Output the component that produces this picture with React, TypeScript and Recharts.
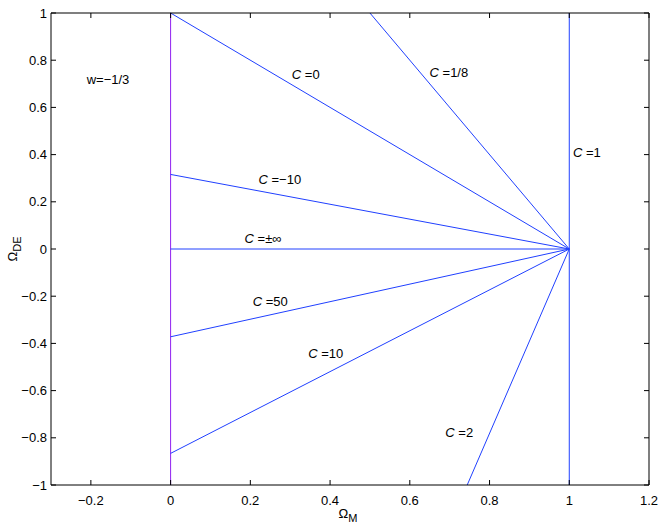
import React from 'react';
import { ComposedChart, Line, XAxis, YAxis, Scatter } from 'recharts';

const xDomain = [-0.3, 1.2];
const yDomain = [-1, 1];
const xTicks = [-0.2, 0, 0.2, 0.4, 0.6, 0.8, 1, 1.2];
const yTicks = [-1, -0.8, -0.6, -0.4, -0.2, 0, 0.2, 0.4, 0.6, 0.8, 1];

const lineC0 = [{ x: 0, y: 1 }, { x: 1, y: 0 }];
const lineC18 = [{ x: 0.5, y: 1 }, { x: 1, y: 0 }];
const lineC1 = [{ x: 1, y: 1 }, { x: 1, y: -1 }];
const lineCm10 = [{ x: 0, y: 0.316 }, { x: 1, y: 0 }];
const lineCinf = [{ x: 0, y: 0 }, { x: 1, y: 0 }];
const lineC50 = [{ x: 0, y: -0.372 }, { x: 1, y: 0 }];
const lineC10 = [{ x: 0, y: -0.866 }, { x: 1, y: 0 }];
const lineC2 = [{ x: 0.744, y: -1 }, { x: 1, y: 0 }];
const lineBoundary = [{ x: 0, y: 1 }, { x: 0, y: -1 }];

const blueLines = [lineC0, lineC18, lineC1, lineCm10, lineCinf, lineC50, lineC10, lineC2];

const labels = [
  { x: -0.157, y: 0.72, pre: '', text: 'w=−1/3' },
  { x: 0.339, y: 0.742, pre: 'C', text: ' =0' },
  { x: 0.698, y: 0.75, pre: 'C', text: ' =1/8' },
  { x: 1.044, y: 0.411, pre: 'C', text: ' =1' },
  { x: 0.274, y: 0.297, pre: 'C', text: ' =−10' },
  { x: 0.232, y: 0.047, pre: 'C', text: ' =±∞' },
  { x: 0.25, y: -0.219, pre: 'C', text: ' =50' },
  { x: 0.389, y: -0.441, pre: 'C', text: ' =10' },
  { x: 0.724, y: -0.775, pre: 'C', text: ' =2' },
];

// anchors for the box's top/right edges and mirrored ticks, built from domains/ticks
const corner = [{ x: xDomain[1], y: yDomain[1] }];
const topTicks = xTicks.map((x) => ({ x, y: yDomain[1] }));
const rightTicks = yTicks.map((y) => ({ x: xDomain[1], y }));

const FONT = '"Liberation Sans", Arial, sans-serif';
const fmt = (v: number) => (v < 0 ? '−' + Math.abs(v) : String(v));
const TICK_LEN = 5;
const CHART_W = 664;
const CHART_H = 526;
const M = { top: 13, right: 15, bottom: 0, left: 0 };
const X_AXIS_H = 41;
const Y_AXIS_W = 51;
const PLOT_W = CHART_W - M.left - M.right - Y_AXIS_W;
const PLOT_H = CHART_H - M.top - M.bottom - X_AXIS_H;

const BottomTick = (props: any) => {
  const { x, y, payload } = props;
  const axisY = y - 10;
  return (
    <g>
      <rect x={x - 0.5} y={axisY - TICK_LEN} width={1} height={TICK_LEN} fill="#000" />
      <text x={x} y={y} dy="0.75em" textAnchor="middle" fontSize={13} fontFamily={FONT} fill="#000">
        {fmt(payload.value)}
      </text>
    </g>
  );
};

const LeftTick = (props: any) => {
  const { x, y, payload } = props;
  const axisX = x + 4;
  return (
    <g>
      <rect x={axisX} y={y - 0.5} width={TICK_LEN} height={1} fill="#000" />
      <text x={x} y={y} dy="0.35em" textAnchor="end" fontSize={13} fontFamily={FONT} fill="#000">
        {fmt(payload.value)}
      </text>
    </g>
  );
};

const CornerShape = (props: any) => {
  const { cx, cy } = props;
  return (
    <g>
      <rect x={cx - PLOT_W} y={cy - 0.5} width={PLOT_W} height={1} fill="#000" />
      <rect x={cx - 0.5} y={cy} width={1} height={PLOT_H} fill="#000" />
    </g>
  );
};

const TopTickShape = (props: any) => {
  const { cx, cy } = props;
  return <rect x={cx - 0.5} y={cy} width={1} height={TICK_LEN} fill="#000" />;
};

const RightTickShape = (props: any) => {
  const { cx, cy } = props;
  return <rect x={cx - TICK_LEN} y={cy - 0.5} width={TICK_LEN} height={1} fill="#000" />;
};

const LabelShape = (props: any) => {
  const { cx, cy, payload } = props;
  return (
    <text x={cx} y={cy} textAnchor="middle" dominantBaseline="central" fontSize={13} fontFamily={FONT} fill="#000">
      {payload.pre ? <tspan fontStyle="italic">{payload.pre}</tspan> : null}
      <tspan>{payload.text}</tspan>
    </text>
  );
};

const XTitle = (props: any) => {
  const vb = props.viewBox || { x: 51, y: 485, width: 598, height: 41 };
  return (
    <text x={vb.x + vb.width / 2 - 2} y={vb.y + 33} textAnchor="middle" fontSize={13} fontFamily={FONT} fill="#000">
      Ω<tspan fontSize={11} dy={4}>M</tspan>
    </text>
  );
};

const YTitle = (props: any) => {
  const vb = props.viewBox || { x: 0, y: 13, width: 51, height: 472 };
  const cx = 17;
  const cy = vb.y + vb.height / 2;
  return (
    <text x={cx} y={cy} transform={`rotate(-90 ${cx} ${cy})`} textAnchor="middle" fontSize={13} fontFamily={FONT} fill="#000">
      Ω<tspan fontSize={11} dy={4}>DE</tspan>
    </text>
  );
};

export default function App() {
  return (
    <div style={{ position: 'absolute', left: 0, top: 0, background: '#fff' }}>
      <ComposedChart width={CHART_W} height={CHART_H} margin={M} style={{ fontFamily: FONT }}>
        <XAxis
          type="number"
          dataKey="x"
          domain={xDomain}
          ticks={xTicks}
          height={X_AXIS_H}
          tickSize={0}
          tickMargin={10}
          tickLine={false}
          stroke="#000"
          tick={BottomTick}
          label={{ content: XTitle }}
        />
        <YAxis
          type="number"
          dataKey="y"
          domain={yDomain}
          ticks={yTicks}
          width={Y_AXIS_W}
          tickSize={0}
          tickMargin={4}
          tickLine={false}
          stroke="#000"
          tick={LeftTick}
          label={{ content: YTitle }}
        />
        <Line data={lineBoundary} dataKey="y" type="linear" stroke="#9020f0" strokeWidth={1} dot={false} activeDot={false} isAnimationActive={false} />
        {blueLines.map((d, i) => (
          <Line key={i} data={d} dataKey="y" type="linear" stroke="#2040ff" strokeWidth={1} dot={false} activeDot={false} isAnimationActive={false} />
        ))}
        <Scatter data={corner} dataKey="y" fill="#000" shape={CornerShape} isAnimationActive={false} />
        <Scatter data={topTicks} dataKey="y" fill="#000" shape={TopTickShape} isAnimationActive={false} />
        <Scatter data={rightTicks} dataKey="y" fill="#000" shape={RightTickShape} isAnimationActive={false} />
        <Scatter data={labels} dataKey="y" shape={LabelShape} isAnimationActive={false} />
      </ComposedChart>
    </div>
  );
}
